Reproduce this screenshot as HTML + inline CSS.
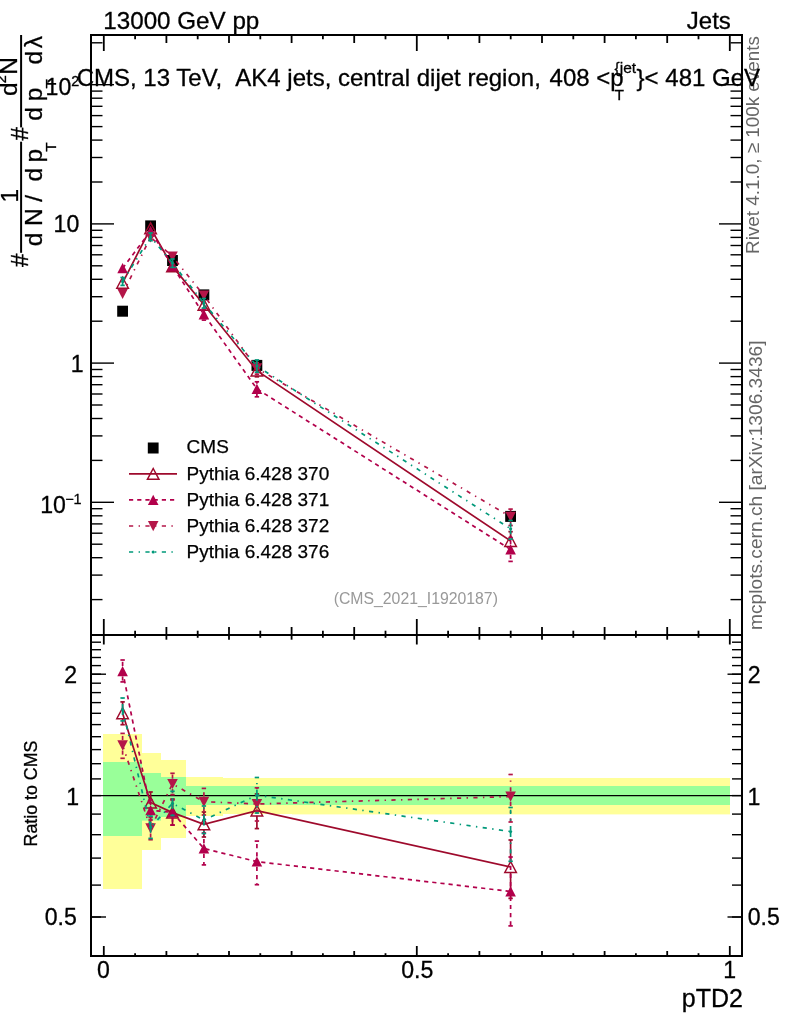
<!DOCTYPE html>
<html><head><meta charset="utf-8"><title>plot</title>
<style>html,body{margin:0;padding:0;background:#fff}svg{display:block;will-change:transform}</style>
</head><body>
<svg width="786" height="1024" viewBox="0 0 786 1024" font-family="'Liberation Sans', Arial, Helvetica, sans-serif">
<rect x="0" y="0" width="786" height="1024" fill="#ffffff"/>
<rect x="103.0" y="734.0" width="39.0" height="155.0" fill="#ffff99"/>
<rect x="142.0" y="753.0" width="19.0" height="97.0" fill="#ffff99"/>
<rect x="161.0" y="760.0" width="25.0" height="78.0" fill="#ffff99"/>
<rect x="186.0" y="777.0" width="37.0" height="39.0" fill="#ffff99"/>
<rect x="223.0" y="778.0" width="69.0" height="36.0" fill="#ffff99"/>
<rect x="292.0" y="778.0" width="438.0" height="36.4" fill="#ffff99"/>
<rect x="103.0" y="762.0" width="39.0" height="74.0" fill="#99ff99"/>
<rect x="142.0" y="773.0" width="19.0" height="47.6" fill="#99ff99"/>
<rect x="161.0" y="777.0" width="25.0" height="40.0" fill="#99ff99"/>
<rect x="186.0" y="786.0" width="37.0" height="19.0" fill="#99ff99"/>
<rect x="223.0" y="786.0" width="69.0" height="19.0" fill="#99ff99"/>
<rect x="292.0" y="786.0" width="438.0" height="19.0" fill="#99ff99"/>
<g stroke="#000" fill="none">
<rect x="91.0" y="35.0" width="651.0" height="921.0" stroke-width="2"/>
<line x1="91.0" y1="635.0" x2="742.0" y2="635.0" stroke-width="2"/>
<line x1="91.0" y1="795.6" x2="742.0" y2="795.6" stroke-width="1.3"/>
</g>
<g stroke="#000" stroke-width="1.4" fill="none">
<line x1="103.8" y1="35.0" x2="103.8" y2="51.0" stroke-width="1.8"/>
<line x1="103.8" y1="619.0" x2="103.8" y2="644.5" stroke-width="1.8"/>
<line x1="103.8" y1="946.0" x2="103.8" y2="956.0" stroke-width="1.8"/>
<line x1="135.1" y1="35.0" x2="135.1" y2="39.3" stroke-width="1.8"/>
<line x1="135.1" y1="630.7" x2="135.1" y2="637.8" stroke-width="1.8"/>
<line x1="135.1" y1="953.2" x2="135.1" y2="956.0" stroke-width="1.8"/>
<line x1="166.4" y1="35.0" x2="166.4" y2="43.0" stroke-width="1.8"/>
<line x1="166.4" y1="627.0" x2="166.4" y2="639.7" stroke-width="1.8"/>
<line x1="166.4" y1="951.0" x2="166.4" y2="956.0" stroke-width="1.8"/>
<line x1="197.7" y1="35.0" x2="197.7" y2="39.3" stroke-width="1.8"/>
<line x1="197.7" y1="630.7" x2="197.7" y2="637.8" stroke-width="1.8"/>
<line x1="197.7" y1="953.2" x2="197.7" y2="956.0" stroke-width="1.8"/>
<line x1="229.0" y1="35.0" x2="229.0" y2="43.0" stroke-width="1.8"/>
<line x1="229.0" y1="627.0" x2="229.0" y2="639.7" stroke-width="1.8"/>
<line x1="229.0" y1="951.0" x2="229.0" y2="956.0" stroke-width="1.8"/>
<line x1="260.3" y1="35.0" x2="260.3" y2="39.3" stroke-width="1.8"/>
<line x1="260.3" y1="630.7" x2="260.3" y2="637.8" stroke-width="1.8"/>
<line x1="260.3" y1="953.2" x2="260.3" y2="956.0" stroke-width="1.8"/>
<line x1="291.6" y1="35.0" x2="291.6" y2="43.0" stroke-width="1.8"/>
<line x1="291.6" y1="627.0" x2="291.6" y2="639.7" stroke-width="1.8"/>
<line x1="291.6" y1="951.0" x2="291.6" y2="956.0" stroke-width="1.8"/>
<line x1="322.9" y1="35.0" x2="322.9" y2="39.3" stroke-width="1.8"/>
<line x1="322.9" y1="630.7" x2="322.9" y2="637.8" stroke-width="1.8"/>
<line x1="322.9" y1="953.2" x2="322.9" y2="956.0" stroke-width="1.8"/>
<line x1="354.2" y1="35.0" x2="354.2" y2="43.0" stroke-width="1.8"/>
<line x1="354.2" y1="627.0" x2="354.2" y2="639.7" stroke-width="1.8"/>
<line x1="354.2" y1="951.0" x2="354.2" y2="956.0" stroke-width="1.8"/>
<line x1="385.5" y1="35.0" x2="385.5" y2="39.3" stroke-width="1.8"/>
<line x1="385.5" y1="630.7" x2="385.5" y2="637.8" stroke-width="1.8"/>
<line x1="385.5" y1="953.2" x2="385.5" y2="956.0" stroke-width="1.8"/>
<line x1="416.8" y1="35.0" x2="416.8" y2="51.0" stroke-width="1.8"/>
<line x1="416.8" y1="619.0" x2="416.8" y2="644.5" stroke-width="1.8"/>
<line x1="416.8" y1="946.0" x2="416.8" y2="956.0" stroke-width="1.8"/>
<line x1="448.1" y1="35.0" x2="448.1" y2="39.3" stroke-width="1.8"/>
<line x1="448.1" y1="630.7" x2="448.1" y2="637.8" stroke-width="1.8"/>
<line x1="448.1" y1="953.2" x2="448.1" y2="956.0" stroke-width="1.8"/>
<line x1="479.4" y1="35.0" x2="479.4" y2="43.0" stroke-width="1.8"/>
<line x1="479.4" y1="627.0" x2="479.4" y2="639.7" stroke-width="1.8"/>
<line x1="479.4" y1="951.0" x2="479.4" y2="956.0" stroke-width="1.8"/>
<line x1="510.7" y1="35.0" x2="510.7" y2="39.3" stroke-width="1.8"/>
<line x1="510.7" y1="630.7" x2="510.7" y2="637.8" stroke-width="1.8"/>
<line x1="510.7" y1="953.2" x2="510.7" y2="956.0" stroke-width="1.8"/>
<line x1="542.0" y1="35.0" x2="542.0" y2="43.0" stroke-width="1.8"/>
<line x1="542.0" y1="627.0" x2="542.0" y2="639.7" stroke-width="1.8"/>
<line x1="542.0" y1="951.0" x2="542.0" y2="956.0" stroke-width="1.8"/>
<line x1="573.3" y1="35.0" x2="573.3" y2="39.3" stroke-width="1.8"/>
<line x1="573.3" y1="630.7" x2="573.3" y2="637.8" stroke-width="1.8"/>
<line x1="573.3" y1="953.2" x2="573.3" y2="956.0" stroke-width="1.8"/>
<line x1="604.6" y1="35.0" x2="604.6" y2="43.0" stroke-width="1.8"/>
<line x1="604.6" y1="627.0" x2="604.6" y2="639.7" stroke-width="1.8"/>
<line x1="604.6" y1="951.0" x2="604.6" y2="956.0" stroke-width="1.8"/>
<line x1="635.9" y1="35.0" x2="635.9" y2="39.3" stroke-width="1.8"/>
<line x1="635.9" y1="630.7" x2="635.9" y2="637.8" stroke-width="1.8"/>
<line x1="635.9" y1="953.2" x2="635.9" y2="956.0" stroke-width="1.8"/>
<line x1="667.2" y1="35.0" x2="667.2" y2="43.0" stroke-width="1.8"/>
<line x1="667.2" y1="627.0" x2="667.2" y2="639.7" stroke-width="1.8"/>
<line x1="667.2" y1="951.0" x2="667.2" y2="956.0" stroke-width="1.8"/>
<line x1="698.5" y1="35.0" x2="698.5" y2="39.3" stroke-width="1.8"/>
<line x1="698.5" y1="630.7" x2="698.5" y2="637.8" stroke-width="1.8"/>
<line x1="698.5" y1="953.2" x2="698.5" y2="956.0" stroke-width="1.8"/>
<line x1="729.8" y1="35.0" x2="729.8" y2="51.0" stroke-width="1.8"/>
<line x1="729.8" y1="619.0" x2="729.8" y2="644.5" stroke-width="1.8"/>
<line x1="729.8" y1="946.0" x2="729.8" y2="956.0" stroke-width="1.8"/>
<line x1="91.0" y1="599.6" x2="102.5" y2="599.6"/>
<line x1="742.0" y1="599.6" x2="730.5" y2="599.6"/>
<line x1="91.0" y1="575.1" x2="102.5" y2="575.1"/>
<line x1="742.0" y1="575.1" x2="730.5" y2="575.1"/>
<line x1="91.0" y1="557.7" x2="102.5" y2="557.7"/>
<line x1="742.0" y1="557.7" x2="730.5" y2="557.7"/>
<line x1="91.0" y1="544.2" x2="102.5" y2="544.2"/>
<line x1="742.0" y1="544.2" x2="730.5" y2="544.2"/>
<line x1="91.0" y1="533.2" x2="102.5" y2="533.2"/>
<line x1="742.0" y1="533.2" x2="730.5" y2="533.2"/>
<line x1="91.0" y1="523.9" x2="102.5" y2="523.9"/>
<line x1="742.0" y1="523.9" x2="730.5" y2="523.9"/>
<line x1="91.0" y1="515.8" x2="102.5" y2="515.8"/>
<line x1="742.0" y1="515.8" x2="730.5" y2="515.8"/>
<line x1="91.0" y1="508.7" x2="102.5" y2="508.7"/>
<line x1="742.0" y1="508.7" x2="730.5" y2="508.7"/>
<line x1="91.0" y1="502.3" x2="114.0" y2="502.3"/>
<line x1="742.0" y1="502.3" x2="719.0" y2="502.3"/>
<line x1="91.0" y1="460.4" x2="102.5" y2="460.4"/>
<line x1="742.0" y1="460.4" x2="730.5" y2="460.4"/>
<line x1="91.0" y1="435.9" x2="102.5" y2="435.9"/>
<line x1="742.0" y1="435.9" x2="730.5" y2="435.9"/>
<line x1="91.0" y1="418.5" x2="102.5" y2="418.5"/>
<line x1="742.0" y1="418.5" x2="730.5" y2="418.5"/>
<line x1="91.0" y1="405.0" x2="102.5" y2="405.0"/>
<line x1="742.0" y1="405.0" x2="730.5" y2="405.0"/>
<line x1="91.0" y1="394.0" x2="102.5" y2="394.0"/>
<line x1="742.0" y1="394.0" x2="730.5" y2="394.0"/>
<line x1="91.0" y1="384.7" x2="102.5" y2="384.7"/>
<line x1="742.0" y1="384.7" x2="730.5" y2="384.7"/>
<line x1="91.0" y1="376.6" x2="102.5" y2="376.6"/>
<line x1="742.0" y1="376.6" x2="730.5" y2="376.6"/>
<line x1="91.0" y1="369.5" x2="102.5" y2="369.5"/>
<line x1="742.0" y1="369.5" x2="730.5" y2="369.5"/>
<line x1="91.0" y1="363.1" x2="114.0" y2="363.1"/>
<line x1="742.0" y1="363.1" x2="719.0" y2="363.1"/>
<line x1="91.0" y1="321.2" x2="102.5" y2="321.2"/>
<line x1="742.0" y1="321.2" x2="730.5" y2="321.2"/>
<line x1="91.0" y1="296.7" x2="102.5" y2="296.7"/>
<line x1="742.0" y1="296.7" x2="730.5" y2="296.7"/>
<line x1="91.0" y1="279.3" x2="102.5" y2="279.3"/>
<line x1="742.0" y1="279.3" x2="730.5" y2="279.3"/>
<line x1="91.0" y1="265.8" x2="102.5" y2="265.8"/>
<line x1="742.0" y1="265.8" x2="730.5" y2="265.8"/>
<line x1="91.0" y1="254.8" x2="102.5" y2="254.8"/>
<line x1="742.0" y1="254.8" x2="730.5" y2="254.8"/>
<line x1="91.0" y1="245.5" x2="102.5" y2="245.5"/>
<line x1="742.0" y1="245.5" x2="730.5" y2="245.5"/>
<line x1="91.0" y1="237.4" x2="102.5" y2="237.4"/>
<line x1="742.0" y1="237.4" x2="730.5" y2="237.4"/>
<line x1="91.0" y1="230.3" x2="102.5" y2="230.3"/>
<line x1="742.0" y1="230.3" x2="730.5" y2="230.3"/>
<line x1="91.0" y1="223.9" x2="114.0" y2="223.9"/>
<line x1="742.0" y1="223.9" x2="719.0" y2="223.9"/>
<line x1="91.0" y1="182.0" x2="102.5" y2="182.0"/>
<line x1="742.0" y1="182.0" x2="730.5" y2="182.0"/>
<line x1="91.0" y1="157.5" x2="102.5" y2="157.5"/>
<line x1="742.0" y1="157.5" x2="730.5" y2="157.5"/>
<line x1="91.0" y1="140.1" x2="102.5" y2="140.1"/>
<line x1="742.0" y1="140.1" x2="730.5" y2="140.1"/>
<line x1="91.0" y1="126.6" x2="102.5" y2="126.6"/>
<line x1="742.0" y1="126.6" x2="730.5" y2="126.6"/>
<line x1="91.0" y1="115.6" x2="102.5" y2="115.6"/>
<line x1="742.0" y1="115.6" x2="730.5" y2="115.6"/>
<line x1="91.0" y1="106.3" x2="102.5" y2="106.3"/>
<line x1="742.0" y1="106.3" x2="730.5" y2="106.3"/>
<line x1="91.0" y1="98.2" x2="102.5" y2="98.2"/>
<line x1="742.0" y1="98.2" x2="730.5" y2="98.2"/>
<line x1="91.0" y1="91.1" x2="102.5" y2="91.1"/>
<line x1="742.0" y1="91.1" x2="730.5" y2="91.1"/>
<line x1="91.0" y1="84.7" x2="114.0" y2="84.7"/>
<line x1="742.0" y1="84.7" x2="719.0" y2="84.7"/>
<line x1="91.0" y1="42.8" x2="102.5" y2="42.8"/>
<line x1="742.0" y1="42.8" x2="730.5" y2="42.8"/>
<line x1="91.0" y1="917.0" x2="101.0" y2="917.0"/>
<line x1="742.0" y1="917.0" x2="732.0" y2="917.0"/>
<line x1="91.0" y1="885.1" x2="101.0" y2="885.1"/>
<line x1="742.0" y1="885.1" x2="732.0" y2="885.1"/>
<line x1="91.0" y1="858.1" x2="101.0" y2="858.1"/>
<line x1="742.0" y1="858.1" x2="732.0" y2="858.1"/>
<line x1="91.0" y1="834.7" x2="101.0" y2="834.7"/>
<line x1="742.0" y1="834.7" x2="732.0" y2="834.7"/>
<line x1="91.0" y1="814.1" x2="101.0" y2="814.1"/>
<line x1="742.0" y1="814.1" x2="732.0" y2="814.1"/>
<line x1="91.0" y1="795.6" x2="101.0" y2="795.6"/>
<line x1="742.0" y1="795.6" x2="732.0" y2="795.6"/>
<line x1="91.0" y1="778.9" x2="101.0" y2="778.9"/>
<line x1="742.0" y1="778.9" x2="732.0" y2="778.9"/>
<line x1="91.0" y1="763.7" x2="101.0" y2="763.7"/>
<line x1="742.0" y1="763.7" x2="732.0" y2="763.7"/>
<line x1="91.0" y1="749.6" x2="101.0" y2="749.6"/>
<line x1="742.0" y1="749.6" x2="732.0" y2="749.6"/>
<line x1="91.0" y1="736.7" x2="101.0" y2="736.7"/>
<line x1="742.0" y1="736.7" x2="732.0" y2="736.7"/>
<line x1="91.0" y1="724.6" x2="101.0" y2="724.6"/>
<line x1="742.0" y1="724.6" x2="732.0" y2="724.6"/>
<line x1="91.0" y1="713.3" x2="101.0" y2="713.3"/>
<line x1="742.0" y1="713.3" x2="732.0" y2="713.3"/>
<line x1="91.0" y1="702.6" x2="101.0" y2="702.6"/>
<line x1="742.0" y1="702.6" x2="732.0" y2="702.6"/>
<line x1="91.0" y1="692.6" x2="101.0" y2="692.6"/>
<line x1="742.0" y1="692.6" x2="732.0" y2="692.6"/>
<line x1="91.0" y1="683.2" x2="101.0" y2="683.2"/>
<line x1="742.0" y1="683.2" x2="732.0" y2="683.2"/>
<line x1="91.0" y1="674.2" x2="101.0" y2="674.2"/>
<line x1="742.0" y1="674.2" x2="732.0" y2="674.2"/>
<line x1="91.0" y1="665.6" x2="101.0" y2="665.6"/>
<line x1="742.0" y1="665.6" x2="732.0" y2="665.6"/>
<line x1="91.0" y1="657.5" x2="101.0" y2="657.5"/>
<line x1="742.0" y1="657.5" x2="732.0" y2="657.5"/>
<line x1="91.0" y1="649.7" x2="101.0" y2="649.7"/>
<line x1="742.0" y1="649.7" x2="732.0" y2="649.7"/>
<line x1="91.0" y1="642.2" x2="101.0" y2="642.2"/>
<line x1="742.0" y1="642.2" x2="732.0" y2="642.2"/>
<line x1="91.0" y1="917.0" x2="106.0" y2="917.0"/>
<line x1="742.0" y1="917.0" x2="727.5" y2="917.0"/>
<line x1="91.0" y1="674.2" x2="106.0" y2="674.2"/>
<line x1="742.0" y1="674.2" x2="727.5" y2="674.2"/>
</g>
<g id="main">
<rect x="117.2" y="305.7" width="10.8" height="11" fill="#000"/>
<rect x="145.2" y="220.4" width="10.8" height="11" fill="#000"/>
<rect x="167.1" y="255.0" width="10.8" height="11" fill="#000"/>
<rect x="198.5" y="289.4" width="10.8" height="11" fill="#000"/>
<rect x="251.5" y="359.9" width="10.8" height="11" fill="#000"/>
<rect x="505.2" y="510.9" width="10.8" height="11" fill="#000"/>
<g stroke="#9e0a2c" stroke-width="1.7" fill="none">
<polyline points="122.6,282.8 150.6,228.3 172.5,266.4 203.9,304.8 256.9,370.6 510.6,541.0"/>
<line x1="256.9" y1="365.4" x2="256.9" y2="364.8"/>
<line x1="254.7" y1="364.8" x2="259.1" y2="364.8"/>
<line x1="256.9" y1="375.8" x2="256.9" y2="376.8"/>
<line x1="254.7" y1="376.8" x2="259.1" y2="376.8"/>
<line x1="510.6" y1="535.8" x2="510.6" y2="531.7"/>
<line x1="508.4" y1="531.7" x2="512.8" y2="531.7"/>
<line x1="510.6" y1="546.2" x2="510.6" y2="551.9"/>
<line x1="508.4" y1="551.9" x2="512.8" y2="551.9"/>
</g>
<polygon points="116.8,288.2 128.4,288.2 122.6,277.4" fill="none" stroke="#9e0a2c" stroke-width="1.45" stroke-linejoin="miter"/>
<polygon points="144.8,233.7 156.4,233.7 150.6,222.9" fill="none" stroke="#9e0a2c" stroke-width="1.45" stroke-linejoin="miter"/>
<polygon points="166.7,271.8 178.3,271.8 172.5,261.0" fill="none" stroke="#9e0a2c" stroke-width="1.45" stroke-linejoin="miter"/>
<polygon points="198.1,310.2 209.7,310.2 203.9,299.4" fill="none" stroke="#9e0a2c" stroke-width="1.45" stroke-linejoin="miter"/>
<polygon points="251.1,376.0 262.7,376.0 256.9,365.2" fill="none" stroke="#9e0a2c" stroke-width="1.45" stroke-linejoin="miter"/>
<polygon points="504.8,546.4 516.4,546.4 510.6,535.6" fill="none" stroke="#9e0a2c" stroke-width="1.45" stroke-linejoin="miter"/>
<g stroke="#b2004b" stroke-width="1.7" fill="none">
<polyline points="122.6,268.3 150.6,230.9 172.5,266.3 203.9,314.5 256.9,388.9 510.6,549.5" stroke-dasharray="4.2 4"/>
<line x1="203.9" y1="309.3" x2="203.9" y2="309.1" stroke-dasharray="4.2 4"/>
<line x1="201.7" y1="309.1" x2="206.1" y2="309.1"/>
<line x1="203.9" y1="319.7" x2="203.9" y2="320.1" stroke-dasharray="4.2 4"/>
<line x1="201.7" y1="320.1" x2="206.1" y2="320.1"/>
<line x1="256.9" y1="383.7" x2="256.9" y2="381.8" stroke-dasharray="4.2 4"/>
<line x1="254.7" y1="381.8" x2="259.1" y2="381.8"/>
<line x1="256.9" y1="394.1" x2="256.9" y2="396.8" stroke-dasharray="4.2 4"/>
<line x1="254.7" y1="396.8" x2="259.1" y2="396.8"/>
<line x1="510.6" y1="544.3" x2="510.6" y2="537.6" stroke-dasharray="4.2 4"/>
<line x1="508.4" y1="537.6" x2="512.8" y2="537.6"/>
<line x1="510.6" y1="554.7" x2="510.6" y2="561.4" stroke-dasharray="4.2 4"/>
<line x1="508.4" y1="561.4" x2="512.8" y2="561.4"/>
</g>
<polygon points="117.3,273.3 127.9,273.3 122.6,263.1" fill="#b2004b"/>
<polygon points="145.3,235.9 155.9,235.9 150.6,225.7" fill="#b2004b"/>
<polygon points="167.2,271.3 177.8,271.3 172.5,261.1" fill="#b2004b"/>
<polygon points="198.6,319.5 209.2,319.5 203.9,309.3" fill="#b2004b"/>
<polygon points="251.6,393.9 262.2,393.9 256.9,383.7" fill="#b2004b"/>
<polygon points="505.3,554.5 515.9,554.5 510.6,544.3" fill="#b2004b"/>
<g stroke="#b41648" stroke-width="1.7" fill="none">
<polyline points="122.6,293.8 150.6,237.2 172.5,256.5 203.9,295.4 256.9,368.3 510.6,516.7" stroke-dasharray="4.2 5.4 1.4 5.4"/>
<line x1="256.9" y1="363.1" x2="256.9" y2="362.7" stroke-dasharray="4.2 5.4 1.4 5.4"/>
<line x1="254.7" y1="362.7" x2="259.1" y2="362.7"/>
<line x1="256.9" y1="373.5" x2="256.9" y2="374.2" stroke-dasharray="4.2 5.4 1.4 5.4"/>
<line x1="254.7" y1="374.2" x2="259.1" y2="374.2"/>
<line x1="510.6" y1="511.5" x2="510.6" y2="509.1" stroke-dasharray="4.2 5.4 1.4 5.4"/>
<line x1="508.4" y1="509.1" x2="512.8" y2="509.1"/>
<line x1="510.6" y1="521.9" x2="510.6" y2="525.5" stroke-dasharray="4.2 5.4 1.4 5.4"/>
<line x1="508.4" y1="525.5" x2="512.8" y2="525.5"/>
</g>
<polygon points="117.3,288.8 127.9,288.8 122.6,299.0" fill="#b41648"/>
<polygon points="145.3,232.2 155.9,232.2 150.6,242.4" fill="#b41648"/>
<polygon points="167.2,251.5 177.8,251.5 172.5,261.7" fill="#b41648"/>
<polygon points="198.6,290.4 209.2,290.4 203.9,300.6" fill="#b41648"/>
<polygon points="251.6,363.3 262.2,363.3 256.9,373.5" fill="#b41648"/>
<polygon points="505.3,511.7 515.9,511.7 510.6,521.9" fill="#b41648"/>
<g stroke="#00997a" stroke-width="1.7" fill="none">
<polyline points="122.6,281.5 150.6,236.8 172.5,263.2 203.9,303.3 256.9,366.1 510.6,528.8" stroke-dasharray="4.2 5.4 1.4 5.4"/>
<line x1="122.6" y1="280.2" x2="122.6" y2="277.5" stroke-dasharray="4.2 5.4 1.4 5.4"/>
<line x1="120.4" y1="277.5" x2="124.8" y2="277.5"/>
<line x1="122.6" y1="282.8" x2="122.6" y2="285.4" stroke-dasharray="4.2 5.4 1.4 5.4"/>
<line x1="120.4" y1="285.4" x2="124.8" y2="285.4"/>
<line x1="150.6" y1="235.5" x2="150.6" y2="233.0" stroke-dasharray="4.2 5.4 1.4 5.4"/>
<line x1="148.4" y1="233.0" x2="152.8" y2="233.0"/>
<line x1="150.6" y1="238.1" x2="150.6" y2="240.7" stroke-dasharray="4.2 5.4 1.4 5.4"/>
<line x1="148.4" y1="240.7" x2="152.8" y2="240.7"/>
<line x1="172.5" y1="261.9" x2="172.5" y2="259.0" stroke-dasharray="4.2 5.4 1.4 5.4"/>
<line x1="170.3" y1="259.0" x2="174.7" y2="259.0"/>
<line x1="172.5" y1="264.5" x2="172.5" y2="267.4" stroke-dasharray="4.2 5.4 1.4 5.4"/>
<line x1="170.3" y1="267.4" x2="174.7" y2="267.4"/>
<line x1="203.9" y1="302.0" x2="203.9" y2="298.5" stroke-dasharray="4.2 5.4 1.4 5.4"/>
<line x1="201.7" y1="298.5" x2="206.1" y2="298.5"/>
<line x1="203.9" y1="304.6" x2="203.9" y2="308.0" stroke-dasharray="4.2 5.4 1.4 5.4"/>
<line x1="201.7" y1="308.0" x2="206.1" y2="308.0"/>
<line x1="256.9" y1="364.8" x2="256.9" y2="360.0" stroke-dasharray="4.2 5.4 1.4 5.4"/>
<line x1="254.7" y1="360.0" x2="259.1" y2="360.0"/>
<line x1="256.9" y1="367.4" x2="256.9" y2="372.2" stroke-dasharray="4.2 5.4 1.4 5.4"/>
<line x1="254.7" y1="372.2" x2="259.1" y2="372.2"/>
<line x1="510.6" y1="527.5" x2="510.6" y2="520.5" stroke-dasharray="4.2 5.4 1.4 5.4"/>
<line x1="508.4" y1="520.5" x2="512.8" y2="520.5"/>
<line x1="510.6" y1="530.1" x2="510.6" y2="539.1" stroke-dasharray="4.2 5.4 1.4 5.4"/>
<line x1="508.4" y1="539.1" x2="512.8" y2="539.1"/>
</g>
<circle cx="122.6" cy="281.5" r="1.6" fill="#00997a"/>
<circle cx="150.6" cy="236.8" r="1.6" fill="#00997a"/>
<circle cx="172.5" cy="263.2" r="1.6" fill="#00997a"/>
<circle cx="203.9" cy="303.3" r="1.6" fill="#00997a"/>
<circle cx="256.9" cy="366.1" r="1.6" fill="#00997a"/>
<circle cx="510.6" cy="528.8" r="1.6" fill="#00997a"/>
</g>
<g id="ratio">
<g stroke="#9e0a2c" stroke-width="1.7" fill="none">
<polyline points="122.6,713.3 150.6,802.5 172.5,812.6 203.9,824.3 256.9,810.6 510.6,867.0"/>
<line x1="122.6" y1="708.1" x2="122.6" y2="701.9"/>
<line x1="120.4" y1="701.9" x2="124.8" y2="701.9"/>
<line x1="122.6" y1="718.5" x2="122.6" y2="724.7"/>
<line x1="120.4" y1="724.7" x2="124.8" y2="724.7"/>
<line x1="150.6" y1="797.3" x2="150.6" y2="792.0"/>
<line x1="148.4" y1="792.0" x2="152.8" y2="792.0"/>
<line x1="150.6" y1="807.7" x2="150.6" y2="813.0"/>
<line x1="148.4" y1="813.0" x2="152.8" y2="813.0"/>
<line x1="172.5" y1="807.4" x2="172.5" y2="799.0"/>
<line x1="170.3" y1="799.0" x2="174.7" y2="799.0"/>
<line x1="172.5" y1="817.8" x2="172.5" y2="825.1"/>
<line x1="170.3" y1="825.1" x2="174.7" y2="825.1"/>
<line x1="203.9" y1="819.1" x2="203.9" y2="812.0"/>
<line x1="201.7" y1="812.0" x2="206.1" y2="812.0"/>
<line x1="203.9" y1="829.5" x2="203.9" y2="837.0"/>
<line x1="201.7" y1="837.0" x2="206.1" y2="837.0"/>
<line x1="256.9" y1="805.4" x2="256.9" y2="794.0"/>
<line x1="254.7" y1="794.0" x2="259.1" y2="794.0"/>
<line x1="256.9" y1="815.8" x2="256.9" y2="828.6"/>
<line x1="254.7" y1="828.6" x2="259.1" y2="828.6"/>
<line x1="510.6" y1="861.8" x2="510.6" y2="840.0"/>
<line x1="508.4" y1="840.0" x2="512.8" y2="840.0"/>
<line x1="510.6" y1="872.2" x2="510.6" y2="898.4"/>
<line x1="508.4" y1="898.4" x2="512.8" y2="898.4"/>
</g>
<polygon points="116.8,718.7 128.4,718.7 122.6,707.9" fill="none" stroke="#9e0a2c" stroke-width="1.45" stroke-linejoin="miter"/>
<polygon points="144.8,807.9 156.4,807.9 150.6,797.1" fill="none" stroke="#9e0a2c" stroke-width="1.45" stroke-linejoin="miter"/>
<polygon points="166.7,818.0 178.3,818.0 172.5,807.2" fill="none" stroke="#9e0a2c" stroke-width="1.45" stroke-linejoin="miter"/>
<polygon points="198.1,829.7 209.7,829.7 203.9,818.9" fill="none" stroke="#9e0a2c" stroke-width="1.45" stroke-linejoin="miter"/>
<polygon points="251.1,816.0 262.7,816.0 256.9,805.2" fill="none" stroke="#9e0a2c" stroke-width="1.45" stroke-linejoin="miter"/>
<polygon points="504.8,872.4 516.4,872.4 510.6,861.6" fill="none" stroke="#9e0a2c" stroke-width="1.45" stroke-linejoin="miter"/>
<g stroke="#b2004b" stroke-width="1.7" fill="none">
<polyline points="122.6,671.2 150.6,810.2 172.5,812.4 203.9,848.5 256.9,861.6 510.6,891.5" stroke-dasharray="4.2 4"/>
<line x1="122.6" y1="666.0" x2="122.6" y2="660.0" stroke-dasharray="4.2 4"/>
<line x1="120.4" y1="660.0" x2="124.8" y2="660.0"/>
<line x1="122.6" y1="676.4" x2="122.6" y2="681.9" stroke-dasharray="4.2 4"/>
<line x1="120.4" y1="681.9" x2="124.8" y2="681.9"/>
<line x1="150.6" y1="805.0" x2="150.6" y2="800.0" stroke-dasharray="4.2 4"/>
<line x1="148.4" y1="800.0" x2="152.8" y2="800.0"/>
<line x1="150.6" y1="815.4" x2="150.6" y2="820.0" stroke-dasharray="4.2 4"/>
<line x1="148.4" y1="820.0" x2="152.8" y2="820.0"/>
<line x1="172.5" y1="807.2" x2="172.5" y2="800.0" stroke-dasharray="4.2 4"/>
<line x1="170.3" y1="800.0" x2="174.7" y2="800.0"/>
<line x1="172.5" y1="817.6" x2="172.5" y2="825.0" stroke-dasharray="4.2 4"/>
<line x1="170.3" y1="825.0" x2="174.7" y2="825.0"/>
<line x1="203.9" y1="843.3" x2="203.9" y2="833.0" stroke-dasharray="4.2 4"/>
<line x1="201.7" y1="833.0" x2="206.1" y2="833.0"/>
<line x1="203.9" y1="853.7" x2="203.9" y2="864.9" stroke-dasharray="4.2 4"/>
<line x1="201.7" y1="864.9" x2="206.1" y2="864.9"/>
<line x1="256.9" y1="856.4" x2="256.9" y2="841.1" stroke-dasharray="4.2 4"/>
<line x1="254.7" y1="841.1" x2="259.1" y2="841.1"/>
<line x1="256.9" y1="866.8" x2="256.9" y2="884.7" stroke-dasharray="4.2 4"/>
<line x1="254.7" y1="884.7" x2="259.1" y2="884.7"/>
<line x1="510.6" y1="886.3" x2="510.6" y2="857.0" stroke-dasharray="4.2 4"/>
<line x1="508.4" y1="857.0" x2="512.8" y2="857.0"/>
<line x1="510.6" y1="896.7" x2="510.6" y2="925.9" stroke-dasharray="4.2 4"/>
<line x1="508.4" y1="925.9" x2="512.8" y2="925.9"/>
</g>
<polygon points="117.3,676.2 127.9,676.2 122.6,666.0" fill="#b2004b"/>
<polygon points="145.3,815.2 155.9,815.2 150.6,805.0" fill="#b2004b"/>
<polygon points="167.2,817.4 177.8,817.4 172.5,807.2" fill="#b2004b"/>
<polygon points="198.6,853.5 209.2,853.5 203.9,843.3" fill="#b2004b"/>
<polygon points="251.6,866.6 262.2,866.6 256.9,856.4" fill="#b2004b"/>
<polygon points="505.3,896.5 515.9,896.5 510.6,886.3" fill="#b2004b"/>
<g stroke="#b41648" stroke-width="1.7" fill="none">
<polyline points="122.6,745.3 150.6,828.3 172.5,783.9 203.9,801.7 256.9,804.0 510.6,796.6" stroke-dasharray="4.2 5.4 1.4 5.4"/>
<line x1="122.6" y1="740.1" x2="122.6" y2="733.4" stroke-dasharray="4.2 5.4 1.4 5.4"/>
<line x1="120.4" y1="733.4" x2="124.8" y2="733.4"/>
<line x1="122.6" y1="750.5" x2="122.6" y2="758.3" stroke-dasharray="4.2 5.4 1.4 5.4"/>
<line x1="120.4" y1="758.3" x2="124.8" y2="758.3"/>
<line x1="150.6" y1="823.1" x2="150.6" y2="817.4" stroke-dasharray="4.2 5.4 1.4 5.4"/>
<line x1="148.4" y1="817.4" x2="152.8" y2="817.4"/>
<line x1="150.6" y1="833.5" x2="150.6" y2="839.7" stroke-dasharray="4.2 5.4 1.4 5.4"/>
<line x1="148.4" y1="839.7" x2="152.8" y2="839.7"/>
<line x1="172.5" y1="778.7" x2="172.5" y2="773.3" stroke-dasharray="4.2 5.4 1.4 5.4"/>
<line x1="170.3" y1="773.3" x2="174.7" y2="773.3"/>
<line x1="172.5" y1="789.1" x2="172.5" y2="794.7" stroke-dasharray="4.2 5.4 1.4 5.4"/>
<line x1="170.3" y1="794.7" x2="174.7" y2="794.7"/>
<line x1="203.9" y1="796.5" x2="203.9" y2="788.4" stroke-dasharray="4.2 5.4 1.4 5.4"/>
<line x1="201.7" y1="788.4" x2="206.1" y2="788.4"/>
<line x1="203.9" y1="806.9" x2="203.9" y2="815.0" stroke-dasharray="4.2 5.4 1.4 5.4"/>
<line x1="201.7" y1="815.0" x2="206.1" y2="815.0"/>
<line x1="256.9" y1="798.8" x2="256.9" y2="787.8" stroke-dasharray="4.2 5.4 1.4 5.4"/>
<line x1="254.7" y1="787.8" x2="259.1" y2="787.8"/>
<line x1="256.9" y1="809.2" x2="256.9" y2="821.0" stroke-dasharray="4.2 5.4 1.4 5.4"/>
<line x1="254.7" y1="821.0" x2="259.1" y2="821.0"/>
<line x1="510.6" y1="791.4" x2="510.6" y2="774.5" stroke-dasharray="4.2 5.4 1.4 5.4"/>
<line x1="508.4" y1="774.5" x2="512.8" y2="774.5"/>
<line x1="510.6" y1="801.8" x2="510.6" y2="822.0" stroke-dasharray="4.2 5.4 1.4 5.4"/>
<line x1="508.4" y1="822.0" x2="512.8" y2="822.0"/>
</g>
<polygon points="117.3,740.3 127.9,740.3 122.6,750.5" fill="#b41648"/>
<polygon points="145.3,823.3 155.9,823.3 150.6,833.5" fill="#b41648"/>
<polygon points="167.2,778.9 177.8,778.9 172.5,789.1" fill="#b41648"/>
<polygon points="198.6,796.7 209.2,796.7 203.9,806.9" fill="#b41648"/>
<polygon points="251.6,799.0 262.2,799.0 256.9,809.2" fill="#b41648"/>
<polygon points="505.3,791.6 515.9,791.6 510.6,801.8" fill="#b41648"/>
<g stroke="#00997a" stroke-width="1.7" fill="none">
<polyline points="122.6,709.5 150.6,827.3 172.5,803.4 203.9,820.0 256.9,795.2 510.6,831.6" stroke-dasharray="4.2 5.4 1.4 5.4"/>
<line x1="122.6" y1="708.2" x2="122.6" y2="698.0" stroke-dasharray="4.2 5.4 1.4 5.4"/>
<line x1="120.4" y1="698.0" x2="124.8" y2="698.0"/>
<line x1="122.6" y1="710.8" x2="122.6" y2="720.9" stroke-dasharray="4.2 5.4 1.4 5.4"/>
<line x1="120.4" y1="720.9" x2="124.8" y2="720.9"/>
<line x1="150.6" y1="826.0" x2="150.6" y2="816.2" stroke-dasharray="4.2 5.4 1.4 5.4"/>
<line x1="148.4" y1="816.2" x2="152.8" y2="816.2"/>
<line x1="150.6" y1="828.6" x2="150.6" y2="838.4" stroke-dasharray="4.2 5.4 1.4 5.4"/>
<line x1="148.4" y1="838.4" x2="152.8" y2="838.4"/>
<line x1="172.5" y1="802.1" x2="172.5" y2="791.3" stroke-dasharray="4.2 5.4 1.4 5.4"/>
<line x1="170.3" y1="791.3" x2="174.7" y2="791.3"/>
<line x1="172.5" y1="804.7" x2="172.5" y2="815.5" stroke-dasharray="4.2 5.4 1.4 5.4"/>
<line x1="170.3" y1="815.5" x2="174.7" y2="815.5"/>
<line x1="203.9" y1="818.7" x2="203.9" y2="806.0" stroke-dasharray="4.2 5.4 1.4 5.4"/>
<line x1="201.7" y1="806.0" x2="206.1" y2="806.0"/>
<line x1="203.9" y1="821.3" x2="203.9" y2="833.5" stroke-dasharray="4.2 5.4 1.4 5.4"/>
<line x1="201.7" y1="833.5" x2="206.1" y2="833.5"/>
<line x1="256.9" y1="793.9" x2="256.9" y2="777.5" stroke-dasharray="4.2 5.4 1.4 5.4"/>
<line x1="254.7" y1="777.5" x2="259.1" y2="777.5"/>
<line x1="256.9" y1="796.5" x2="256.9" y2="813.0" stroke-dasharray="4.2 5.4 1.4 5.4"/>
<line x1="254.7" y1="813.0" x2="259.1" y2="813.0"/>
<line x1="510.6" y1="830.3" x2="510.6" y2="807.5" stroke-dasharray="4.2 5.4 1.4 5.4"/>
<line x1="508.4" y1="807.5" x2="512.8" y2="807.5"/>
<line x1="510.6" y1="832.9" x2="510.6" y2="861.3" stroke-dasharray="4.2 5.4 1.4 5.4"/>
<line x1="508.4" y1="861.3" x2="512.8" y2="861.3"/>
</g>
<circle cx="122.6" cy="709.5" r="1.6" fill="#00997a"/>
<circle cx="150.6" cy="827.3" r="1.6" fill="#00997a"/>
<circle cx="172.5" cy="803.4" r="1.6" fill="#00997a"/>
<circle cx="203.9" cy="820.0" r="1.6" fill="#00997a"/>
<circle cx="256.9" cy="795.2" r="1.6" fill="#00997a"/>
<circle cx="510.6" cy="831.6" r="1.6" fill="#00997a"/>
</g>
<g id="legend">
<rect x="147.8" y="442.5" width="10.8" height="11" fill="#000"/>
<line x1="129.0" y1="473.9" x2="177.0" y2="473.9" stroke="#9e0a2c" stroke-width="1.7"/>
<polygon points="147.4,479.3 159.0,479.3 153.2,468.5" fill="none" stroke="#9e0a2c" stroke-width="1.45" stroke-linejoin="miter"/>
<line x1="129.0" y1="499.9" x2="177.0" y2="499.9" stroke="#b2004b" stroke-width="1.7" stroke-dasharray="4.2 4"/>
<polygon points="147.9,504.9 158.5,504.9 153.2,494.7" fill="#b2004b"/>
<line x1="129.0" y1="526.0" x2="177.0" y2="526.0" stroke="#b41648" stroke-width="1.7" stroke-dasharray="4.2 5.4 1.4 5.4"/>
<polygon points="147.9,521.0 158.5,521.0 153.2,531.2" fill="#b41648"/>
<line x1="129.0" y1="552.0" x2="177.0" y2="552.0" stroke="#00997a" stroke-width="1.7" stroke-dasharray="4.2 5.4 1.4 5.4"/>
<circle cx="153.2" cy="552.0" r="1.6" fill="#00997a"/>
<g font-size="19" fill="#000" stroke="#000" stroke-width="0.25">
<text x="186.6" y="453.4">CMS</text>
<text x="186.6" y="479.8">Pythia 6.428 370</text>
<text x="186.6" y="505.8">Pythia 6.428 371</text>
<text x="186.6" y="531.9">Pythia 6.428 372</text>
<text x="186.6" y="557.9">Pythia 6.428 376</text>
</g></g>
<g transform="rotate(-90)">
<text x="-253.9" y="759.2" font-size="18.85" fill="#666666">Rivet 4.1.0, ≥ 100k events</text>
<text x="-629.9" y="761.7" font-size="19.15" fill="#666666">mcplots.cern.ch [arXiv:1306.3436]</text>
</g>
<g fill="#000" stroke="#000" stroke-width="0.3">
<text x="103.3" y="28.6" font-size="24.2">13000 GeV pp</text>
<text x="730.8" y="28.6" font-size="24" text-anchor="end">Jets</text>
<text x="76.7" y="85.8" font-size="24">CMS, 13 TeV, <tspan x="235.3">AK4 jets, central dijet region, </tspan><tspan x="549.6">408 &lt;p</tspan></text>
<text x="614.6" y="72.6" font-size="15.5">{jet</text>
<text x="614.6" y="99.9" font-size="15.5">T</text>
<text x="636.6" y="85.8" font-size="24">}&lt; 481 GeV</text>
<text x="71.3" y="95.1" font-size="23.1" text-anchor="end">10</text>
<text x="71.3" y="85.6" font-size="14.4">2</text>
<text x="79.3" y="232.4" font-size="23.1" text-anchor="end">10</text>
<text x="83.7" y="371.8" font-size="23.1" text-anchor="end">1</text>
<text x="65.9" y="513.2" font-size="23.1" text-anchor="end">10</text>
<text x="65.2" y="504" font-size="14.4">−1</text>
<text x="77.2" y="683" font-size="23.1" text-anchor="end">2</text>
<text x="79" y="805.1" font-size="23.1" text-anchor="end">1</text>
<text x="76.8" y="925.3" font-size="23.1" text-anchor="end">0.5</text>
<text x="747.7" y="683" font-size="23.1">2</text>
<text x="747.5" y="805.1" font-size="23.1">1</text>
<text x="747.7" y="925.3" font-size="23.1">0.5</text>
<text x="103.5" y="978.2" font-size="23.1" text-anchor="middle">0</text>
<text x="417.3" y="978.2" font-size="23.1" text-anchor="middle">0.5</text>
<text x="729.6" y="978.2" font-size="23.1" text-anchor="middle">1</text>
<text x="743" y="1006.5" font-size="25" text-anchor="end">pTD2</text>
</g>
<g transform="rotate(-90)" fill="#000" stroke="#000" stroke-width="0.3">
<text x="-846.4" y="36.7" font-size="17.8">Ratio to CMS</text>
<text x="-266.9" y="27.8" font-size="24">#</text>
<text x="-202.6" y="18.1" font-size="24.5">1</text>
<text x="-246.3" y="42.4" font-size="24.5">d</text>
<text x="-225.9" y="42.4" font-size="24.5">N</text>
<text x="-201.8" y="42.4" font-size="24.5">/</text>
<text x="-181.6" y="42.4" font-size="24.5">d</text>
<text x="-162.4" y="42.4" font-size="24.5">p</text>
<text x="-151.8" y="56.1" font-size="15.5">T</text>
<text x="-140.6" y="27.8" font-size="24">#</text>
<text x="-95.9" y="17.2" font-size="24.5">d</text>
<text x="-83.3" y="5.6" font-size="14.5">2</text>
<text x="-74.7" y="17.2" font-size="24.5">N</text>
<text x="-120.8" y="42.4" font-size="24.5">d</text>
<text x="-101.3" y="42.4" font-size="24.5">p</text>
<text x="-88.4" y="56.1" font-size="15.5">T</text>
<text x="-64.4" y="42.4" font-size="24.5">d</text>
<text x="-48.2" y="42.4" font-size="24.5">λ</text>
</g>
<line x1="21.1" y1="141.7" x2="21.1" y2="252.8" stroke="#000" stroke-width="2"/>
<line x1="21.1" y1="35" x2="21.1" y2="127.4" stroke="#000" stroke-width="2"/>
<text x="415.8" y="604.2" font-size="15.8" fill="#999999" text-anchor="middle">(CMS_2021_I1920187)</text>
</svg>
</body></html>
